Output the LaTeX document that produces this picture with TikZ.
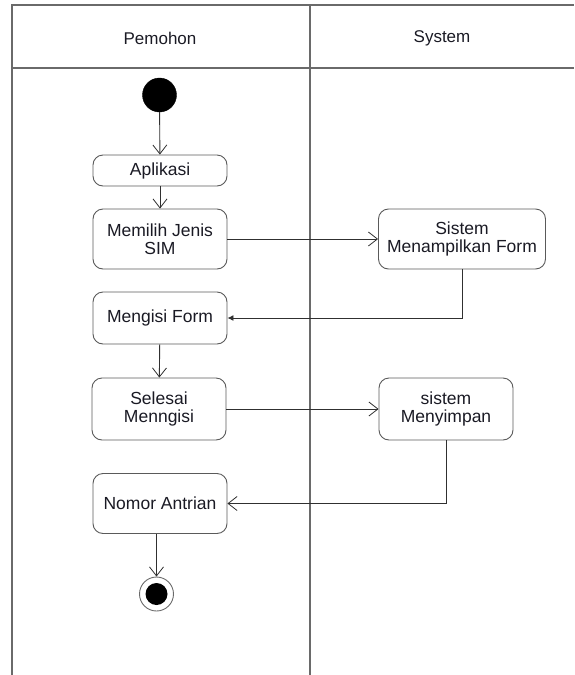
\documentclass[tikz,border=0pt]{standalone}
\usepackage{fontspec}
\setmainfont{Liberation Sans}
\usetikzlibrary{arrows.meta,calc}
\definecolor{lane}{HTML}{6A6A6A}
\definecolor{boxline}{HTML}{5A5A5A}
\definecolor{conn}{HTML}{303030}
\definecolor{txt}{HTML}{1A1A24}
\tikzset{
  act/.style={draw=boxline, line width=0.9pt, rounded corners=10pt, fill=white,
    align=center, text=txt, font=\fontsize{17.5}{18.5}\selectfont, inner sep=0pt},
  lanestyle/.style={draw=lane, line width=1.4pt},
  flow/.style={draw=conn, line width=0.9pt, -{Straight Barb[length=9pt,width=14pt,line width=0.8pt]}},
  flowfill/.style={draw=conn, line width=0.9pt, -{Latex[length=6pt,width=6pt]}},
  hdr/.style={text=txt, font=\fontsize{17}{18}\selectfont}
}
\begin{document}
\begin{tikzpicture}[x=1pt,y=-1pt]
\useasboundingbox (0,0) rectangle (574,675);
% swimlanes
\draw[lanestyle] (12,675) -- (12,5) -- (574,5);
\draw[lanestyle] (12,68) -- (574,68);
\draw[lanestyle] (310,5) -- (310,675);
\node[hdr] (h1) at (160,38) {Pemohon};
\node[hdr] (h2) at (442,38) {System};
% nodes
\node[circle, fill=black, draw=black, minimum size=34pt, inner sep=0pt] (start) at (159.5,95) {};
\node[act, minimum width=134pt, minimum height=31pt] (apl) at (160,170.5) {Aplikasi};
\node[act, minimum width=134pt, minimum height=60pt] (pilih) at (160,239) {Memilih Jenis\\SIM};
\node[act, minimum width=167pt, minimum height=60pt] (tampil) at (462,239) {Sistem\\Menampilkan Form};
\node[act, minimum width=134pt, minimum height=52pt] (isi) at (160,318) {Mengisi Form};
\node[act, minimum width=134pt, minimum height=62pt] (selesai) at (159,409) {Selesai\\Menngisi};
\node[act, minimum width=134pt, minimum height=62pt] (simpan) at (446,409) {sistem\\Menyimpan};
\node[act, minimum width=134pt, minimum height=60pt] (nomor) at (160,503.5) {Nomor Antrian};
\node[circle, draw=lane, line width=0.9pt, fill=white, minimum size=34pt, inner sep=0pt] (end) at (156.5,594) {};
\node[circle, fill=black, minimum size=22pt, inner sep=0pt] (endin) at (end.center) {};
% connectors
\draw[flow] (start) -- (apl);
\draw[flow] (apl) -- (pilih);
\draw[flow] (pilih) -- (tampil);
\draw[flowfill] (tampil.south) |- (isi.east);
\draw[flow] (isi) -- (selesai);
\draw[flow] (selesai) -- (simpan);
\draw[flow] (simpan.south) |- (nomor.east);
\draw[flow] (nomor.south -| end.north) -- (end.north);
\end{tikzpicture}
\end{document}
